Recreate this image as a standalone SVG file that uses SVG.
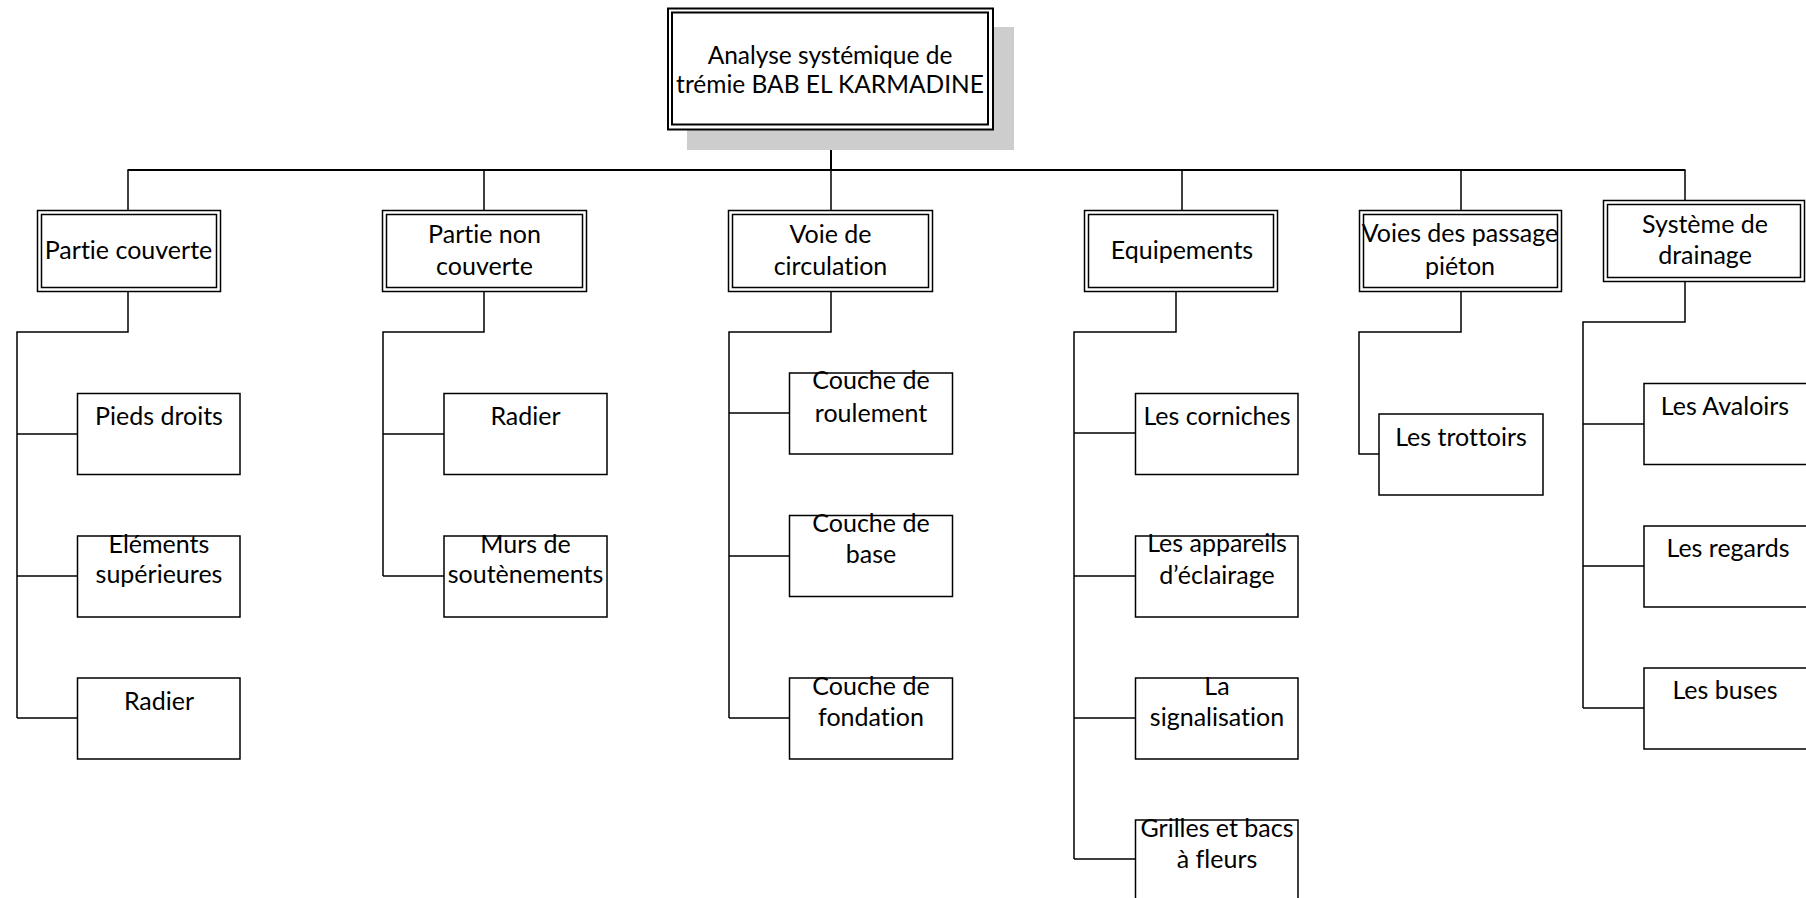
<svg xmlns="http://www.w3.org/2000/svg" width="1806" height="898" viewBox="0 0 1806 898">
<style>
  text { font-family: Lato, "Liberation Sans", sans-serif; font-size: 25px; fill: #000; text-anchor: middle; font-variant-ligatures: none; font-feature-settings: "liga" 0, "clig" 0; }
  .rt { font-size: 24.5px; }
  .box { fill: #fff; stroke: #000; stroke-width: 1.5; }
  .dbl { fill: none; stroke: #000; stroke-width: 1.5; }
  .rootb { fill: none; stroke: #000; stroke-width: 2; }
  .ln { fill: none; stroke: #000; stroke-width: 1.5; }
  .bar { fill: none; stroke: #000; stroke-width: 2; }
</style>
<rect width="1806" height="898" fill="#fff"/>

<g id="connectors">
  <line class="bar" x1="831" y1="130" x2="831" y2="171" stroke-width="2.5"/>
  <line class="bar" x1="127.5" y1="170" x2="1685.5" y2="170"/>
  <line class="ln" x1="128" y1="170" x2="128" y2="210"/>
  <line class="ln" x1="484" y1="170" x2="484" y2="210"/>
  <line class="ln" x1="831" y1="170" x2="831" y2="210"/>
  <line class="ln" x1="1182" y1="170" x2="1182" y2="210"/>
  <line class="ln" x1="1461" y1="170" x2="1461" y2="210"/>
  <line class="ln" x1="1685" y1="170" x2="1685" y2="200"/>

  <path class="ln" d="M128,292 V332 H17 V718"/>
  <path class="ln" d="M17,434 H77.5 M17,576 H77.5 M17,718 H77.5"/>

  <path class="ln" d="M484,292 V332 H383 V576"/>
  <path class="ln" d="M383,434 H444 M383,576 H444"/>

  <path class="ln" d="M831,292 V332 H729 V718"/>
  <path class="ln" d="M729,413 H789.5 M729,556 H789.5 M729,718 H789.5"/>

  <path class="ln" d="M1176,292 V332 H1074 V859"/>
  <path class="ln" d="M1074,433 H1135.5 M1074,576 H1135.5 M1074,718 H1135.5 M1074,859 H1135.5"/>

  <path class="ln" d="M1461,292 V332 H1359 V454 H1379"/>

  <path class="ln" d="M1685,282 V322 H1583 V708"/>
  <path class="ln" d="M1583,424 H1644 M1583,566 H1644 M1583,708 H1644"/>
</g>

<g id="root">
  <rect x="687" y="27" width="327" height="123" fill="#cdcdcd"/>
  <rect x="668" y="8.5" width="325" height="121" fill="#fff" stroke="none"/>
  <rect class="rootb" x="668" y="8.5" width="325" height="121"/>
  <rect class="rootb" x="672" y="12.5" width="316" height="112"/>
  <text class="rt" x="830" y="64">Analyse systémique de</text>
  <text class="rt" x="830" y="93">trémie BAB EL KARMADINE</text>
</g>

<g id="partie-couverte">
  <rect class="box" x="37.5" y="210.5" width="183" height="81"/>
  <rect class="dbl" x="41.5" y="214.5" width="175" height="73"/>
  <text x="128.5" y="259">Partie couverte</text>
</g>
<g id="partie-non-couverte">
  <rect class="box" x="382.5" y="210.5" width="204" height="81"/>
  <rect class="dbl" x="386.5" y="214.5" width="196" height="73"/>
  <text x="484.5" y="243">Partie non</text>
  <text x="484.5" y="275">couverte</text>
</g>
<g id="voie-circulation">
  <rect class="box" x="728.5" y="210.5" width="204" height="81"/>
  <rect class="dbl" x="732.5" y="214.5" width="196" height="73"/>
  <text x="830.5" y="243">Voie de</text>
  <text x="830.5" y="275">circulation</text>
</g>
<g id="equipements">
  <rect class="box" x="1084.5" y="210.5" width="193" height="81"/>
  <rect class="dbl" x="1088.5" y="214.5" width="185" height="73"/>
  <text x="1182" y="259">Equipements</text>
</g>
<g id="voies-passage">
  <rect class="box" x="1359.5" y="210.5" width="202" height="81"/>
  <rect class="dbl" x="1363.5" y="214.5" width="194" height="73"/>
  <text x="1460" y="242">Voies des passage</text>
  <text x="1460" y="275">piéton</text>
</g>
<g id="systeme-drainage">
  <rect class="box" x="1603.5" y="200.5" width="201" height="81"/>
  <rect class="dbl" x="1607.5" y="204.5" width="193" height="73"/>
  <text x="1705" y="233">Système de</text>
  <text x="1705" y="264">drainage</text>
</g>

<g id="pieds-droits">
  <rect class="box" x="77.5" y="393.5" width="162.5" height="81"/>
  <text x="159" y="425">Pieds droits</text>
</g>
<g id="elements-superieures">
  <rect class="box" x="77.5" y="536" width="162.5" height="81"/>
  <text x="159" y="553">Eléments</text>
  <text x="159" y="583">supérieures</text>
</g>
<g id="radier-1">
  <rect class="box" x="77.5" y="678" width="162.5" height="81"/>
  <text x="159" y="710">Radier</text>
</g>
<g id="radier-2">
  <rect class="box" x="444" y="393.5" width="163" height="81"/>
  <text x="525.5" y="425">Radier</text>
</g>
<g id="murs-soutenements">
  <rect class="box" x="444" y="536" width="163" height="81"/>
  <text x="525.5" y="553">Murs de</text>
  <text x="525.5" y="583">soutènements</text>
</g>

<g id="couche-roulement">
  <rect class="box" x="789.5" y="373" width="163" height="81"/>
  <text x="871" y="389">Couche de</text>
  <text x="871" y="422">roulement</text>
</g>
<g id="couche-base">
  <rect class="box" x="789.5" y="515.5" width="163" height="81"/>
  <text x="871" y="532">Couche de</text>
  <text x="871" y="563">base</text>
</g>
<g id="couche-fondation">
  <rect class="box" x="789.5" y="678" width="163" height="81"/>
  <text x="871" y="695">Couche de</text>
  <text x="871" y="726">fondation</text>
</g>

<g id="corniches">
  <rect class="box" x="1135.5" y="393.5" width="162.5" height="81"/>
  <text x="1217" y="425">Les corniches</text>
</g>
<g id="appareils-eclairage">
  <rect class="box" x="1135.5" y="536" width="162.5" height="81"/>
  <text x="1217" y="552">Les appareils</text>
  <text x="1217" y="584">d’éclairage</text>
</g>
<g id="signalisation">
  <rect class="box" x="1135.5" y="678" width="162.5" height="81"/>
  <text x="1217" y="695">La</text>
  <text x="1217" y="726">signalisation</text>
</g>
<g id="grilles-bacs">
  <rect class="box" x="1135.5" y="820" width="162.5" height="90"/>
  <text x="1217" y="837">Grilles et bacs</text>
  <text x="1217" y="868">à fleurs</text>
</g>

<g id="trottoirs">
  <rect class="box" x="1379" y="414" width="164" height="81"/>
  <text x="1461" y="446">Les trottoirs</text>
</g>

<g id="avaloirs">
  <rect class="box" x="1644" y="383.5" width="170" height="81"/>
  <text x="1725" y="415">Les Avaloirs</text>
</g>
<g id="regards">
  <rect class="box" x="1644" y="526" width="170" height="81"/>
  <text x="1728" y="557">Les regards</text>
</g>
<g id="buses">
  <rect class="box" x="1644" y="668" width="170" height="81"/>
  <text x="1725" y="699">Les buses</text>
</g>
</svg>
